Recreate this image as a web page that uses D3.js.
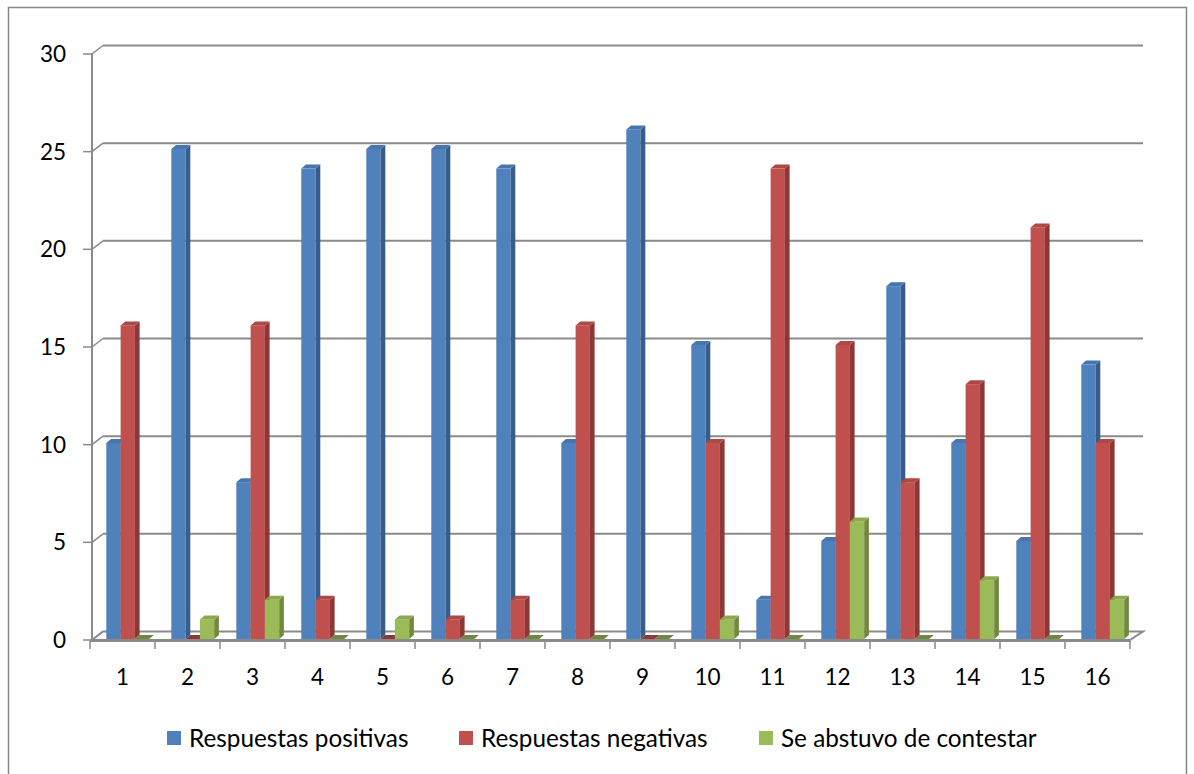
<!DOCTYPE html>
<html><head><meta charset="utf-8">
<script src="https://cdn.jsdelivr.net/npm/d3@7"></script>
<style>body{margin:0;background:#fff}svg{display:block}text{font-family:Lato,"Noto Sans",sans-serif;fill:#000}</style>
</head><body>
<script>
const categories = ["1","2","3","4","5","6","7","8","9","10","11","12","13","14","15","16"];
const seriesNames = ["Respuestas positivas","Respuestas negativas","Se abstuvo de contestar"];
const positivas = [10,25,8,24,25,25,24,10,26,15,2,5,18,10,5,14];
const negativas = [16,0,16,2,0,1,2,16,0,10,24,15,8,13,21,10];
const abstuvo   = [0,1,2,0,1,0,0,0,0,1,0,6,0,3,0,2];
const yTicks = [0,5,10,15,20,25,30];
const colors = ["#4F81BD","#C0504D","#9BBB59"];
const sideColors = ["#385D8A","#8C3836","#71893F"];
const topColors = ["#4775AD","#AD4845","#8CA950"];

const W=1194,H=774;
const svg=d3.select("body").append("svg").attr("width",W).attr("height",H);
svg.append("rect").attr("x",8.5).attr("y",7.5).attr("width",1178).attr("height",800)
  .attr("fill","#fff").attr("stroke","#878787").attr("stroke-width",1.5);

const x=d3.scaleBand().domain(categories).range([90,1130]);
const yF=d3.scaleLinear().domain([0,30]).range([640,54]);
const yB=d3.scaleLinear().domain([0,30]).range([639,51]);
const DX=11, DY=-8.5;
const grid="#8a8a8a";
const FS=22.5, LFS=24.3;

const g=svg.append("g");
yTicks.forEach(v=>{
  const yf=yF(v), yb=yf+DY;
  if(v>0) g.append("line").attr("x1",92+DX).attr("x2",1143).attr("y1",yb).attr("y2",yb)
    .attr("stroke",grid).attr("stroke-width",2);
  g.append("line").attr("x1",92).attr("y1",yf).attr("x2",92+DX).attr("y2",yb).attr("stroke",grid).attr("stroke-width",1.5);
  g.append("line").attr("x1",83).attr("x2",92).attr("y1",yf).attr("y2",yf).attr("stroke",grid).attr("stroke-width",1.5);
  g.append("text").attr("x",66).attr("y",yf).attr("dy","0.35em").attr("text-anchor","end")
    .attr("font-size",FS).text(v);
});
g.append("line").attr("x1",92).attr("x2",92).attr("y1",yF(30)).attr("y2",yF(0)+1).attr("stroke",grid).attr("stroke-width",2);
const y0=yF(0);
g.append("path").attr("d",`M92,${y0}L${1130},${y0}L${1143},${y0+DY}L${92+DX},${y0+DY}Z`)
  .attr("fill","#fff").attr("stroke",grid).attr("stroke-width",2);

const data=[positivas,negativas,abstuvo];
const bw=14.3, sd=4.7, sy=-4;
const bars=svg.append("g");
categories.forEach((c,i)=>{
  data.forEach((arr,s)=>{
    const v=arr[i];
    const x0=x(c)+16.3+s*bw, x1=x0+bw;
    const yt=yB(v), yb=yB(0);
    const gg=bars.append("g");
    if(v>0){
      gg.append("rect").attr("x",x0).attr("y",yt).attr("width",bw).attr("height",yb-yt).attr("fill",colors[s]);
      gg.append("path").attr("d",`M${x1},${yt}L${x1+sd},${yt+sy}L${x1+sd},${yb+sy}L${x1},${yb}Z`).attr("fill",sideColors[s]);
    }
    gg.append("path").attr("d",`M${x0},${yt}L${x0+sd},${yt+sy}L${x1+sd},${yt+sy}L${x1},${yt}Z`).attr("fill",v>0?topColors[s]:sideColors[s]);
  });
});

const ax=svg.append("g");
ax.append("line").attr("x1",90).attr("x2",1130).attr("y1",641).attr("y2",641).attr("stroke",grid).attr("stroke-width",2);
d3.range(17).forEach(k=>{
  const xx=90+k*x.step();
  ax.append("line").attr("x1",xx).attr("x2",xx).attr("y1",641).attr("y2",649).attr("stroke",grid).attr("stroke-width",1.5);
});
categories.forEach(c=>{
  ax.append("text").attr("x",x(c)+x.bandwidth()/2).attr("y",677).attr("dy","0.35em").attr("text-anchor","middle")
    .attr("font-size",FS).text(c);
});

const leg=svg.append("g");
const legX=[167,459,759];
seriesNames.forEach((n,s)=>{
  leg.append("rect").attr("x",legX[s]).attr("y",731).attr("width",14).attr("height",14).attr("fill",colors[s]);
  leg.append("text").attr("x",legX[s]+22).attr("y",738).attr("dy","0.35em").attr("font-size",LFS).text(n);
});
</script>
</body></html>
